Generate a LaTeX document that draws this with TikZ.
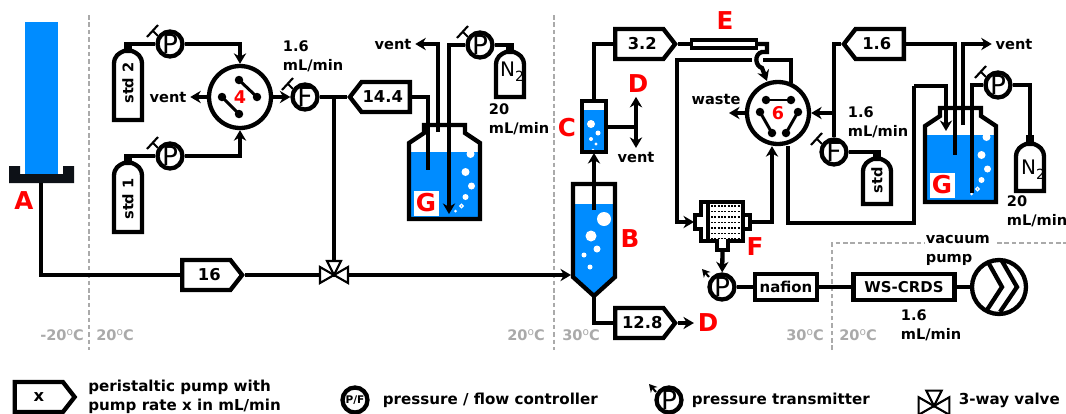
\documentclass[tikz,border=0pt]{standalone}
\usepackage{fontspec}
\setmainfont{DejaVu Sans}
\usepackage{tikz,pgffor}
\usetikzlibrary{arrows.meta,calc,shapes.symbols}

\definecolor{waterblue}{HTML}{008CFF}
\definecolor{traydark}{HTML}{0D1117}
\definecolor{tempgray}{HTML}{AAAAAA}
\newcommand{\degC}{\raisebox{0.55ex}{\fontsize{6}{6}\selectfont\mdseries o}C}

\tikzset{
  wire/.style={line width=2.45pt},
  thinwire/.style={line width=1.2pt},
  flow/.style={-{Stealth[length=6pt,width=7pt]}},
  lbl/.style={font=\fontsize{8.3}{10.8}\selectfont\bfseries,align=left,inner sep=2pt},
  leglbl/.style={font=\fontsize{8.6}{10.8}\selectfont\bfseries,align=left,inner sep=2pt,anchor=west},
  temp/.style={font=\fontsize{8.3}{10}\selectfont\bfseries,text=tempgray,inner sep=0pt},
  redlbl/.style={font=\fontsize{14}{14}\selectfont\bfseries,text=red,inner sep=2pt},
  gauge/.style={circle,draw,wire,fill=white,minimum size=0.5cm,inner sep=0pt,
    font=\fontsize{15}{15}\selectfont},
  selector/.style={circle,draw,wire,fill=white,minimum size=1.24cm,inner sep=0pt,
    font=\fontsize{10}{10}\selectfont\bfseries,text=red},
  pumpbox/.style={shape=signal,signal pointer angle=104,draw,wire,fill=white,
    minimum width=1.2cm,minimum height=0.6cm,inner sep=0pt,
    font=\fontsize{9.3}{10}\selectfont\bfseries},
  unitbox/.style={rectangle,draw,wire,fill=white,minimum height=0.52cm,inner sep=0pt,
    font=\fontsize{8.5}{10}\selectfont\bfseries},
  tempdash/.style={draw=tempgray,line width=1.13pt,dash pattern=on 2.6pt off 1.6pt},
  pics/gastank/.style={code={
    \draw[wire,fill=white] (-14,#1) -- (-14,20) .. controls (-14,12) and (-9,9) .. (-4,7)
      -- (4,7) .. controls (9,9) and (14,12) .. (14,20) -- (14,#1) -- cycle;
    \draw[line width=4pt] (0,-2) -- (0,8);
  }},
  pics/flask/.style={code={
    \fill[waterblue] (-35.5,27) rectangle (35.5,94);
    \foreach \bx/\by/\br in {26/29/4,21/47/4,27/61/3.5,21/72/3}
      \fill[white] (\bx,\by) circle ({\br*0.02cm});
    \draw[white,line width=0.7pt] (17,81) circle (0.035cm);
    \fill[white] (11,86) circle (0.03cm);
    \draw[wire] (-20.5,8) -- (-20.5,0) -- (20.5,0) -- (20.5,8) -- (35.5,18) -- (35.5,94)
      -- (-35.5,94) -- (-35.5,18) -- cycle;
  }},
  pics/threeway/.style={code={
    \draw[thinwire,fill=white] (0,0) -- (-14,-8) -- (-14,8) -- cycle;
    \draw[thinwire,fill=white] (0,0) -- (14,-8) -- (14,8) -- cycle;
    \draw[thinwire,fill=white] (0,0) -- (-7,-14) -- (7,-14) -- cycle;
  }}
}

\begin{document}
\begin{tikzpicture}[x=0.02cm,y=-0.02cm]
\useasboundingbox (0,0) rectangle (1066,413);

%%%%%%%%%%%%%%%%%%%%%%%%%%%%%%% temperature zones
\draw[tempdash] (89,15) -- (89,350);
\draw[tempdash] (554,15) -- (554,350);
\draw[tempdash] (832,350) -- (832,243) -- (925,243);
\draw[tempdash] (997,243) -- (1066,243);
\node[temp] (tcold) at (62,335) {-20\degC};
\node[temp] (twarmA) at (115,335) {20\degC};
\node[temp] (twarmB) at (526,335) {20\degC};
\node[temp] (thotA) at (581,335) {30\degC};
\node[temp] (thotB) at (805,335) {30\degC};
\node[temp] (twarmC) at (858,335) {20\degC};

%%%%%%%%%%%%%%%%%%%%%%%%%%%%%%% ice core and melt head
\fill[waterblue] (25,22) rectangle (58,174);
\fill[traydark] (9,166) -- (20,166) -- (20,174) -- (63,174) -- (63,166) -- (74,166)
  -- (74,183) -- (9,183) -- cycle;
\coordinate (trayout) at (41,183);
\node[redlbl] (labA) at (24,201) {A};

%%%%%%%%%%%%%%%%%%%%%%%%%%%%%%% gauges, selectors, pumps, boxes
\node[gauge] (pstd2) at (170,44) {P};
\node[gauge] (pstd1) at (170,156) {P};
\node[gauge] (fsel4) at (305,97) {F};
\node[gauge] (pgasA) at (480,45) {P};
\node[gauge] (fsel6) at (834,152) {F};
\node[gauge] (pgasB) at (998,85) {P};
\node[gauge] (ptrans) at (722,287) {P};

\node[selector] (sel4) at (240,97) {4};
\node[selector] (sel6) at (778,113) {6};

\node[pumpbox,signal to=east,anchor=west] (p16) at (180,275) {\hspace*{3.4pt}16};
\node[pumpbox,signal to=west,anchor=east] (p144) at (412,97) {14.4\hspace*{3.4pt}};
\node[pumpbox,signal to=east,anchor=west] (p32) at (613,44) {\hspace*{3.4pt}3.2};
\node[pumpbox,signal to=east,anchor=west] (p128) at (613,323) {\hspace*{3.4pt}12.8};
\node[pumpbox,signal to=west,anchor=east] (p16b) at (906,44) {1.6\hspace*{3.4pt}};

\node[unitbox,minimum width=1.24cm] (nafion) at (786,287) {nafion};
\node[unitbox,minimum width=2.02cm] (crds) at (904,287) {WS-CRDS};
\node[rectangle,draw,line width=1.9pt,fill=white,minimum width=1.3cm,minimum height=0.16cm,inner sep=0pt] (dryer) at (724,44) {};
\node[circle,draw,wire,fill=white,minimum size=1.08cm,inner sep=0pt] (vac) at (999,287) {};

%%%%%%%%%%%%%%%%%%%%%%%%%%%%%%% gas tanks
\coordinate (std2) at (128,44);
\coordinate (std1) at (128,156);
\coordinate (n2a) at (510,45);
\coordinate (std6) at (877,152);
\coordinate (n2b) at (1030,137);
\pic at (std2) {gastank=76};
\pic at (std1) {gastank=76};
\pic at (n2a) {gastank=52};
\pic at (std6) {gastank=52};
\pic at (n2b) {gastank=54};
\node[lbl,rotate=90] (txtstd2) at (128,83) {std 2};
\node[lbl,rotate=90] (txtstd1) at (128,199) {std 1};
\node[lbl,rotate=90] (txtstd) at (877,180) {std};
\node[inner sep=0pt,font=\fontsize{11.4}{12}\selectfont] (txtn2a) at (512,72) {N\raisebox{-3pt}{\fontsize{8}{8}\selectfont 2}};
\node[inner sep=0pt,font=\fontsize{11.4}{12}\selectfont] (txtn2b) at (1033,170) {N\raisebox{-3pt}{\fontsize{8}{8}\selectfont 2}};

%%%%%%%%%%%%%%%%%%%%%%%%%%%%%%% bottles
\pic at (444.5,125) {flask};
\pic at (960.5,108) {flask};
\node[redlbl,fill=white,minimum size=0.5cm,inner sep=0pt] (labGa) at (426,203) {G};
\node[redlbl,fill=white,minimum size=0.5cm,inner sep=0pt] (labGb) at (942,185) {G};

% column C
\fill[waterblue] (580,110) rectangle (608,154);
\foreach \bx/\by/\br in {591/124/4,598/133/2.5,591/139/2,596/144/1.7,593/150/1.5}
  \fill[white] (\bx,\by) circle ({\br*0.02cm});
\draw[wire] (582,101) rectangle (606,152);
\node[redlbl] (labC) at (567,128) {C};

% vessel B
\fill[waterblue] (572,204) -- (616,204) -- (616,277) -- (594,296) -- (572,277) -- cycle;
\foreach \bx/\by/\br in {604/219/7,591/236/5.5,597/249/3.5,584/255/2.5,590/267/2.5}
  \fill[white] (\bx,\by) circle ({\br*0.02cm});
\draw[wire] (573,184) -- (615,184) -- (615,277) -- (594,296) -- (573,277) -- cycle;
\node[redlbl] (labB) at (630,239) {B};

% filter F
\draw[wire,fill=white] (695,215) -- (701,215) -- (701,202) -- (743,202) -- (743,215) -- (750,215)
  -- (750,229) -- (743,229) -- (743,241) -- (728,241) -- (728,250) -- (717,250) -- (717,241)
  -- (701,241) -- (701,229) -- (695,229) -- cycle;
\draw[wire] (708,202) -- (708,241);
\draw[wire] (743,202) -- (743,241);
\foreach \fy in {206,211.5,217,222.5,228,233.5,238.5}
  \draw[line width=0.7pt,dash pattern=on 1.2pt off 0.7pt] (711,\fy) -- (741,\fy);
\node[redlbl] (labF) at (755,247) {F};
\coordinate (filin) at (694,222);
\coordinate (filout) at (751,222);
\coordinate (filbot) at (722.5,251);

% dryer E
\node[redlbl] (labE) at (725,21) {E};

%%%%%%%%%%%%%%%%%%%%%%%%%%%%%%% text labels
\node[lbl] (ventA) at (168,97) {vent};
\node[lbl] (ventB) at (393,44) {vent};
\node[lbl] (ventC) at (636,157) {vent};
\node[lbl] (ventD) at (1014,44) {vent};
\node[lbl] (waste) at (716,99) {waste};
\node[lbl,anchor=west] (rateA) at (279,56) {1.6\\mL/min};
\node[lbl,anchor=west] (rateB) at (485,119) {20\\mL/min};
\node[lbl,anchor=west] (rateC) at (844,122) {1.6\\mL/min};
\node[lbl,anchor=west] (rateD) at (1003,211) {20\\mL/min};
\node[lbl,anchor=west] (rateE) at (897,325) {1.6\\mL/min};
\node[lbl,anchor=west] (vacname) at (922,250) {vacuum\\pump};
\node[redlbl] (labDa) at (638,84) {D};
\node[redlbl] (labDb) at (708,323) {D};

%%%%%%%%%%%%%%%%%%%%%%%%%%%%%%% ports on the selectors
\foreach \ax/\ay/\bx/\by in {-1/-17/17/0,-18/0/-1/17}{
  \draw[line width=1.7pt] ($(sel4)+(\ax,\ay)$) -- ($(sel4)+(\bx,\by)$);
  \fill ($(sel4)+(\ax,\ay)$) circle (0.085cm);
  \fill ($(sel4)+(\bx,\by)$) circle (0.085cm);
}
\foreach \ax/\ay/\bx/\by in {-12/-13/13/-13,-18/-1/-6/20,20/-1/8/20}{
  \draw[line width=1.7pt] ($(sel6)+(\ax,\ay)$) -- ($(sel6)+(\bx,\by)$);
  \fill ($(sel6)+(\ax,\ay)$) circle (0.085cm);
  \fill ($(sel6)+(\bx,\by)$) circle (0.085cm);
}

%%%%%%%%%%%%%%%%%%%%%%%%%%%%%%% ticks on the controllers
\foreach \g in {pstd2,pstd1,fsel4,pgasA,fsel6,pgasB}{
  \draw[thinwire] ($(\g)+(-23,-7)$) -- ($(\g)+(-12,-19)$);
  \draw[thinwire] ($(\g)+(-12,-8)$) -- ($(\g)+(-17,-13)$);
}
\draw[thinwire,-{Stealth[length=4.5pt,width=5pt]}] ($(ptrans)+(-13,-10)$) -- ($(ptrans)+(-20,-18)$);

%%%%%%%%%%%%%%%%%%%%%%%%%%%%%%% left part
\coordinate (valve) at (334,275);
\coordinate (teefour) at (334,97);
\coordinate (bin) at (571,275);
\draw[wire] (trayout) |- (p16.west);
\draw[wire] (p16.east) -- (valve);
\draw[wire] (teefour) -- (valve);
\draw[wire,flow] (valve) -- (bin);
\pic at (valve) {threeway};
\draw[wire] (std2) -- (pstd2);
\draw[wire] (std1) -- (pstd1);
\draw[wire,flow] (pstd2) -| (sel4);
\draw[wire,flow] (pstd1) -| (sel4);
\draw[wire,flow] (sel4) -- (ventA);
\draw[wire,flow] (sel4) -- (fsel4);
\draw[wire] (fsel4) -- (p144.west);

\coordinate (dipA) at (428,170);
\coordinate (outA) at (438,132);
\coordinate (gasA) at (449,214);
\draw[wire] (p144.east) -| (dipA);
\draw[wire,flow] (outA) |- (ventB);
\draw[wire,flow] (pgasA) -| (gasA);
\draw[wire] (pgasA) -- (n2a);

%%%%%%%%%%%%%%%%%%%%%%%%%%%%%%% column and dryer
\coordinate (ctop) at (594,100);
\coordinate (cbot) at (594,153);
\coordinate (cout) at (607,127);
\coordinate (ctee) at (636,127);
\coordinate (bdip) at (594,210);
\coordinate (btip) at (594,296);
\draw[wire] (p32.west) -| (ctop);
\draw[wire,flow] (bdip) -- (cbot);
\draw[wire] (cout) -- (ctee);
\draw[wire,flow] (ctee) -- (ctee|-labDa.south);
\draw[wire,flow] (ctee) -- (ventC);
\draw[wire] (btip) |- (p128.west);
\draw[wire,flow] (p128.east) -- (labDb);
\draw[wire] (p32.east) -- (dryer);

\coordinate (hopL) at (752,60);
\coordinate (hopR) at (763,60);
\coordinate (hopend) at (767,81);
\draw[wire,flow] (dryer.east) -- (767,44) -- (767,52) -- (762,52)
  .. controls (754,54) and (755,66) .. (762,68) -- (hopend);
\draw[wire,flow] (hopL) -- (677,60) |- (filin);
\draw[wire] (hopR) -| ($(sel6.north)+(13,3)$);
\draw[wire,flow] (filout) -| ($(sel6.south)+(-6,0)$);
\draw[wire,flow] (filbot) -- (ptrans);

%%%%%%%%%%%%%%%%%%%%%%%%%%%%%%% right part
\coordinate (wasteend) at (729,113);
\coordinate (teesix) at (834,113);
\coordinate (dipB) at (955,155);
\coordinate (outB) at (963,125);
\coordinate (gasB) at (972,193);
\coordinate (retA) at (914,223);
\coordinate (retB) at (914,86);
\coordinate (retend) at (946,131);
\draw[wire,flow] (sel6) -- (wasteend);
\draw[wire,flow] (teesix) -- (sel6);
\draw[wire] (p16b.west) -| (fsel6);
\draw[wire] (fsel6) -- (std6);
\draw[wire] (p16b.east) -| (dipB);
\draw[wire,flow] (outB) |- (ventD);
\draw[wire] (pgasB) -| (gasB);
\draw[wire] (pgasB) -| (n2b);
\draw[wire] ($(sel6.south)+(10,0)$) |- (retA) -- (retB);
\draw[wire,flow] (retB) -| (retend);

\draw[wire] (ptrans) -- (nafion);
\draw[wire] (nafion) -- (crds);
\draw[wire] (crds) -- (vac);
\draw[wire] ($(vac)+(-11,-25)$) -- ($(vac)+(3,0)$) -- ($(vac)+(-12,23)$);
\draw[wire] ($(vac)+(3,-26)$) -- ($(vac)+(18,0)$) -- ($(vac)+(1,25)$);

%%%%%%%%%%%%%%%%%%%%%%%%%%%%%%% legend
\node[pumpbox,signal to=east,anchor=west] (legpump) at (12.5,397) {x};
\node[leglbl] (legpumptxt) at (84.5,397) {peristaltic pump with\\pump rate x in mL/min};
\node[gauge,font=\fontsize{6}{6}\selectfont\bfseries] (leggauge) at (355,400) {P/F};
\node[leglbl] (leggaugetxt) at (379,400) {pressure / flow controller};
\node[gauge] (legtrans) at (669,400) {P};
\draw[thinwire,-{Stealth[length=4.5pt,width=5pt]}] ($(legtrans)+(-13,-8)$) -- ($(legtrans)+(-20,-16)$);
\node[leglbl] (legtranstxt) at (688,400) {pressure transmitter};
\coordinate (legvalve) at (934,406);
\pic[scale=1.1] at (legvalve) {threeway};
\node[leglbl] (legvalvetxt) at (955,400) {3-way valve};
\end{tikzpicture}
\end{document}
